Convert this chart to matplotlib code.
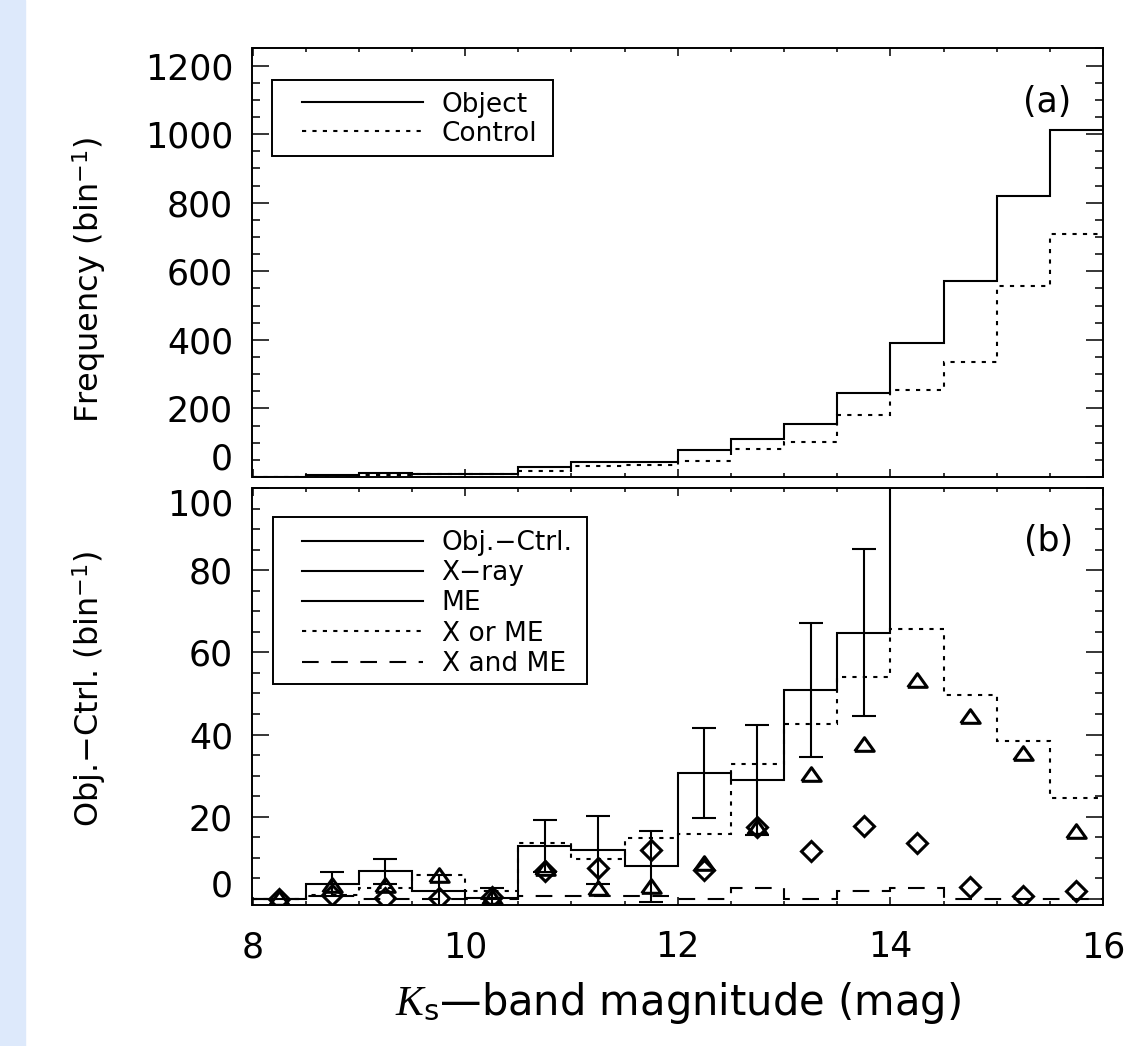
import numpy as np
import matplotlib
matplotlib.use('Agg')
import matplotlib.pyplot as plt
from matplotlib.lines import Line2D
from matplotlib.patches import Rectangle
from matplotlib.transforms import ScaledTranslation

plt.rcParams['font.family'] = ['DejaVu Sans']
plt.rcParams['mathtext.fontset'] = 'custom'
plt.rcParams['mathtext.rm'] = 'DejaVu Sans'
plt.rcParams['mathtext.it'] = 'Liberation Serif:italic'

# K_s bins, 0.5 mag wide
bin_edges = [8.0, 8.5, 9.0, 9.5, 10.0, 10.5, 11.0, 11.5, 12.0,
             12.5, 13.0, 13.5, 14.0, 14.5, 15.0, 15.5, 16.0]
bin_centers = [8.25, 8.75, 9.25, 9.75, 10.25, 10.75, 11.25, 11.75,
               12.25, 12.75, 13.25, 13.75, 14.25, 14.75, 15.25, 15.75]

# panel (a)
object_counts = [0, 5, 11, 10, 10, 30, 44, 43, 79, 112, 154, 244, 391, 573, 821, 1012]
control_counts = [0, 2, 5, 8, 10, 17, 32, 36, 48, 82, 103, 180, 254, 335, 558, 710]

# panel (b)
diff_counts = [0, 3.6, 6.7, 1.8, 0.3, 12.9, 11.9, 7.9, 30.7, 28.9, 50.9, 64.8, 137, 238, 263, 302]
diff_err = [np.nan, 2.9, 3.0, 4.0, 2.3, 6.3, 8.3, 8.7, 11.0, 13.3, 16.3, 20.3, 25, 30, 37, 42]
xray_counts = [0.2, 3.4, 3.4, 5.9, 0.5, 7.5, 2.6, 3.2, 8.8, 17.6, 30.5, 37.6, 53.3, 44.4, 35.6, 16.6]
me_counts = [0, 1.0, 0.3, 0.3, 0.4, 6.8, 7.6, 11.8, 6.9, 17.4, 11.7, 17.7, 13.6, 2.9, 0.6, 1.9]
x_or_me = [0, 1.0, 2.6, 5.9, 1.8, 13.5, 9.7, 14.8, 15.8, 32.8, 42.5, 53.9, 65.8, 49.5, 38.5, 24.5]
x_and_me = [0, 0.8, 0, 0, 0, 0.8, 0.8, 0.8, 0, 2.6, 0, 1.8, 2.6, 0, 0, 0]

FS = 25
LFS = 19
LW = 1.5
dotted = (0, (2, 3))
dashed = (0, (8, 6))
tri = [(-1, -0.7), (1, -0.7), (0, 0.7), (-1, -0.7)]

W, H = 1130, 1046
fig = plt.figure(figsize=(W / 100, H / 100), dpi=100)
fig.patches.append(Rectangle((0, 0), 25 / W, 1, transform=fig.transFigure,
                             color='#dde9fb', zorder=-10))


def fx(x):
    return x / W


def fy(y):
    return 1 - y / H


left = fx(252.5)
width = 850.5 / W
ax1 = fig.add_axes([left, fy(477), width, (477 - 48.5) / H])
ax2 = fig.add_axes([left, fy(905), width, (905 - 488) / H])


def style_axis(ax):
    for s in ax.spines.values():
        s.set_linewidth(1.4)
    ax.tick_params(which='both', direction='in', top=True, right=True,
                   width=1.1, labelsize=FS)
    ax.tick_params(axis='y', which='major', length=12.2, pad=14)
    ax.tick_params(axis='y', which='minor', length=6)
    ax.tick_params(axis='x', which='major', length=6, pad=18)
    ax.tick_params(axis='x', which='minor', length=3)
    ax.set_xlim(8, 16)
    ax.set_xticks([8, 10, 12, 14, 16])
    ax.set_xticks(bin_edges, minor=True)


def boxed_legend(ax, handles, labels, box, handle_x, first_row_y, spacing):
    # box drawn by hand: the IDL legend has a wider left margin than right
    x0, y0, x1, y1 = box
    ax.add_patch(Rectangle((fx(x0), fy(y1)), fx(x1) - fx(x0), fy(y0) - fy(y1),
                           transform=fig.transFigure, fc='white', ec='k',
                           lw=1.4, zorder=4))
    leg = ax.legend(handles, labels, loc='upper left',
                    bbox_to_anchor=(fx(handle_x), fy(first_row_y)),
                    bbox_transform=fig.transFigure, fontsize=LFS,
                    frameon=False, handlelength=4.58, handletextpad=0.72,
                    labelspacing=spacing, borderpad=0, borderaxespad=0)
    leg.set_zorder(5)
    return leg


# ---- panel (a)
style_axis(ax1)
ax1.stairs(object_counts, bin_edges, baseline=None, color='k', lw=LW)
ax1.stairs(control_counts, bin_edges, baseline=None, color='k', lw=LW, linestyle=dotted)
ax1.set_ylim(0, 1250)
ax1.set_yticks([0, 200, 400, 600, 800, 1000, 1200])
ax1.set_yticks(np.arange(0, 1251, 50), minor=True)
ax1.tick_params(axis='x', labelbottom=False)
ax1.set_ylabel('Frequency (bin$^{-1}$)', fontsize=23)
ax1.yaxis.set_label_coords(-0.17, 0.46)
ax1.text(0.934, 0.875, '(a)', transform=ax1.transAxes, fontsize=FS,
         ha='center', va='center')
h1 = [Line2D([], [], color='k', lw=LW), Line2D([], [], color='k', lw=LW, linestyle=dotted)]
boxed_legend(ax1, h1, ['Object', 'Control'], (272, 80, 553, 156), 302, 91.5, 0.12)

# ---- panel (b)
style_axis(ax2)
ax2.stairs(diff_counts, bin_edges, baseline=None, color='k', lw=LW)
ax2.stairs(x_or_me, bin_edges, baseline=None, color='k', lw=LW, linestyle=dotted)
ax2.stairs(x_and_me, bin_edges, baseline=None, color='k', lw=LW, linestyle=dashed)
ax2.errorbar(bin_centers, diff_counts, yerr=diff_err, fmt='none', ecolor='k',
             elinewidth=LW, capsize=8.6, capthick=LW)
ax2.plot(bin_centers, xray_counts, linestyle='none', marker=tri, markersize=14,
         mfc='none', mec='k', mew=2.2)
ax2.plot(bin_centers, me_counts, linestyle='none', marker='D', markersize=10.5,
         mfc='none', mec='k', mew=2.2)
ax2.set_ylim(-1.5, 100)
ax2.set_yticks([0, 20, 40, 60, 80, 100])
ax2.set_yticks(np.arange(0, 101, 5), minor=True)
ax2.set_ylabel('Obj.−Ctrl. (bin$^{-1}$)', fontsize=23)
ax2.yaxis.set_label_coords(-0.17, 0.518)
ax2.set_xlabel(r'$K_{\rm s}$—band magnitude (mag)', fontsize=30)
ax2.xaxis.set_label_coords(0.5, -0.18)
ax2.text(0.936, 0.873, '(b)', transform=ax2.transAxes, fontsize=FS,
         ha='center', va='center')
h2 = [Line2D([], [], color='k', lw=LW), Line2D([], [], color='k', lw=LW),
      Line2D([], [], color='k', lw=LW),
      Line2D([], [], color='k', lw=LW, linestyle=dotted),
      Line2D([], [], color='k', lw=LW, linestyle=dashed)]
boxed_legend(ax2, h2, ['Obj.−Ctrl.', 'X−ray', 'ME', 'X or ME', 'X and ME'],
             (272.7, 517.3, 587.3, 684), 301.7, 530, 0.16)

# keep the stacked "0" and "100" labels from colliding, as in the original
fig.canvas.draw()
ax1.get_yticklabels()[0].set_va('bottom')
ax2.get_yticklabels()[-1].set_va('top')
lab0 = ax2.get_yticklabels()[0]
lab0.set_va('bottom')
lab0.set_transform(lab0.get_transform() + ScaledTranslation(0, -3 / 72, fig.dpi_scale_trans))

fig.savefig('out.png', dpi=100)
